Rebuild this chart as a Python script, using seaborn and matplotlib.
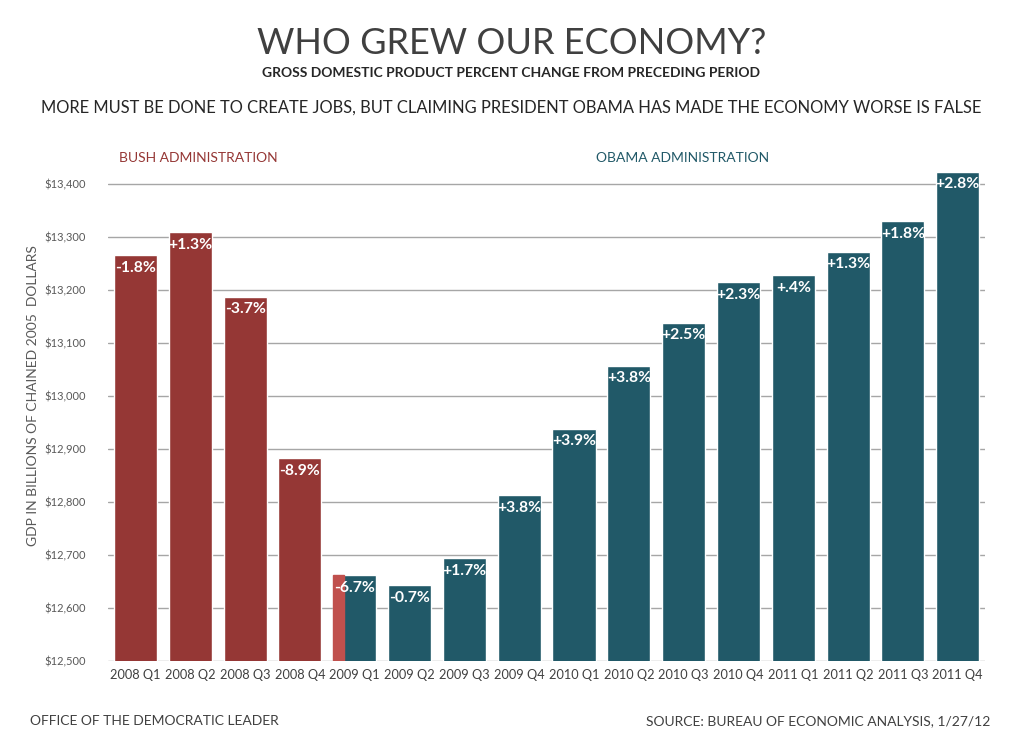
import numpy as np
import pandas as pd
import matplotlib
matplotlib.use("Agg")
import matplotlib.pyplot as plt
from matplotlib.patches import Rectangle
import seaborn as sns

# GDP, billions of chained 2005 dollars
quarters = ["2008 Q1", "2008 Q2", "2008 Q3", "2008 Q4",
            "2009 Q1", "2009 Q2", "2009 Q3", "2009 Q4",
            "2010 Q1", "2010 Q2", "2010 Q3", "2010 Q4",
            "2011 Q1", "2011 Q2", "2011 Q3", "2011 Q4"]
gdp = [13266, 13309, 13187, 12883,
       12662, 12643, 12694, 12813,
       12938, 13057, 13138, 13215,
       13228, 13272, 13330, 13423]
pct_change = ["-1.8%", "+1.3%", "-3.7%", "-8.9%",
              "-6.7%", "-0.7%", "+1.7%", "+3.8%",
              "+3.9%", "+3.8%", "+2.5%", "+2.3%",
              "+.4%", "+1.3%", "+1.8%", "+2.8%"]
admin = ["Bush"] * 4 + ["Obama"] * 12
bush_share_2009q1 = 0.25  # part of 2009 Q1 still under Bush

BUSH = "#953735"
BUSH_LIGHT = "#C0504D"
OBAMA = "#215968"

df = pd.DataFrame({"quarter": quarters, "gdp": gdp, "admin": admin})

sns.set_theme(style="white")
plt.rcParams["font.family"] = ["Lato", "DejaVu Sans"]

fig = plt.figure(figsize=(10.23, 7.48), dpi=100)
ax = fig.add_axes([0.1056, 0.1163, 0.8574, 0.666])

sns.barplot(data=df, x="quarter", y="gdp", hue="admin",
            palette={"Bush": BUSH, "Obama": OBAMA}, dodge=False, saturation=1,
            width=0.785, legend=False, ax=ax, zorder=2)

ax.set_ylim(12500, 13440)
ax.set_xlim(-0.5, len(quarters) - 0.5)
ax.set_yticks(np.arange(12500, 13401, 100))
ax.set_yticklabels([f"${v:,}" for v in range(12500, 13401, 100)],
                   fontsize=8, color="#595959")
ax.tick_params(axis="x", labelsize=9.2, labelcolor="#404040", length=0, pad=6)
ax.tick_params(axis="y", length=0, pad=16)
ax.yaxis.grid(True, color="#a6a6a6", linewidth=1)
ax.set_axisbelow(True)
for s in ax.spines.values():
    s.set_visible(False)
ax.set_xlabel("")
ax.set_ylabel("GDP IN BILLIONS OF CHAINED 2005  DOLLARS", fontsize=10,
              color="#595959")
ax.yaxis.set_label_coords(-0.079, 0.532)

# bars in drawing order
bars = sorted([p for p in ax.patches if p.get_height() > 0],
              key=lambda p: p.get_x())

# Bush part of 2009 Q1
p = bars[quarters.index("2009 Q1")]
ax.add_patch(Rectangle((p.get_x(), p.get_y()), p.get_width() * bush_share_2009q1,
                       p.get_height(), color=BUSH_LIGHT, zorder=3))

for p, lab in zip(bars, pct_change):
    ax.annotate(lab, (p.get_x() + p.get_width() / 2, p.get_y() + p.get_height()),
                xytext=(0, -4), textcoords="offset points", ha="center", va="top",
                color="white", fontweight="bold", fontsize=11.3, zorder=4)

fig.text(0.5, 0.942, "WHO GREW OUR ECONOMY?", ha="center", va="center",
         fontsize=26, color="#404040")
fig.text(0.5, 0.902, "GROSS DOMESTIC PRODUCT PERCENT CHANGE FROM PRECEDING PERIOD",
         ha="center", va="center", fontsize=10, fontweight="bold", color="#262626")
fig.text(0.5, 0.856, "MORE MUST BE DONE TO CREATE JOBS, BUT CLAIMING PRESIDENT OBAMA "
         "HAS MADE THE ECONOMY WORSE IS FALSE", ha="center", va="center",
         fontsize=11.9, color="#262626")
fig.text(0.116, 0.789, "BUSH ADMINISTRATION", ha="left", va="center",
         fontsize=10, color=BUSH)
fig.text(0.583, 0.789, "OBAMA ADMINISTRATION", ha="left", va="center",
         fontsize=10, color=OBAMA)
fig.text(0.029, 0.036, "OFFICE OF THE DEMOCRATIC LEADER", ha="left", va="center",
         fontsize=10, color="#404040")
fig.text(0.968, 0.036, "SOURCE: BUREAU OF ECONOMIC ANALYSIS, 1/27/12", ha="right",
         va="center", fontsize=10, color="#404040")

fig.savefig("out.png", dpi=100)
